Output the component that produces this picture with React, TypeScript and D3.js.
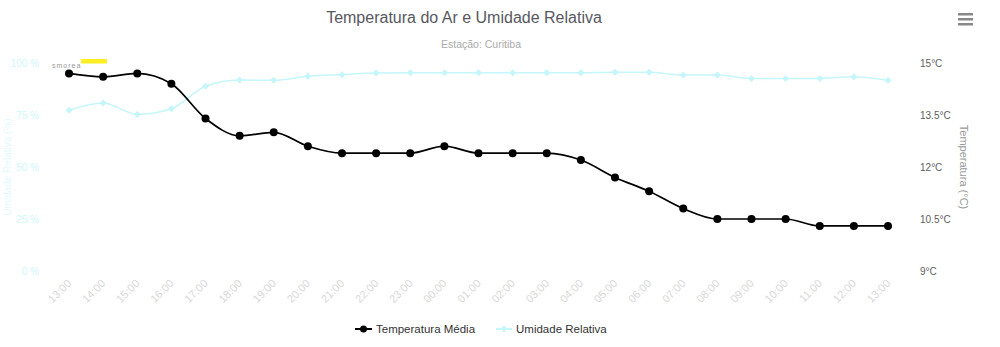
import React from "react";
import * as d3 from "d3";

const hours = ["13:00","14:00","15:00","16:00","17:00","18:00","19:00","20:00","21:00","22:00","23:00","00:00","01:00","02:00","03:00","04:00","05:00","06:00","07:00","08:00","09:00","10:00","11:00","12:00","13:00"];
const temperature = [14.7,14.6,14.7,14.4,13.4,12.9,13.0,12.6,12.4,12.4,12.4,12.6,12.4,12.4,12.4,12.2,11.7,11.3,10.8,10.5,10.5,10.5,10.3,10.3,10.3];
const humidity = [77.3,80.8,75.3,78.0,88.8,91.8,91.7,93.6,94.4,95.2,95.3,95.3,95.3,95.3,95.3,95.3,95.5,95.5,94.2,94.2,92.6,92.6,92.6,93.4,91.7];
const tempTicks = [9,10.5,12,13.5,15];
const humTicks = [0,25,50,75,100];

const FONT = "'Liberation Sans', Arial, sans-serif";
const HUM_COLOR = "#c4f6fa";

export default function App() {
  const W = 1000, H = 347;
  const x = d3.scaleLinear().domain([0, hours.length - 1]).range([69, 888]);
  const yT = d3.scaleLinear().domain([9, 15]).range([271, 63]);
  const yH = d3.scaleLinear().domain([0, 100]).range([271, 63]);
  const lineT = d3.line<number>().x((_, i) => x(i)).y(d => yT(d)).curve(d3.curveMonotoneX);
  const lineH = d3.line<number>().x((_, i) => x(i)).y(d => yH(d)).curve(d3.curveMonotoneX);
  const diamond = (cx: number, cy: number, r: number) => `M${cx},${cy - r}L${cx + r},${cy}L${cx},${cy + r}L${cx - r},${cy}Z`;

  return (
    <svg width={W} height={H} style={{ position: "absolute", left: 0, top: 0, background: "#fff" }} fontFamily={FONT}>
      <rect x={0} y={0} width={W} height={H} fill="#fff" />
      {/* title */}
      <text x={464} y={23} textAnchor="middle" fontSize={16} fill="#585860">Temperatura do Ar e Umidade Relativa</text>
      <text x={481} y={48} textAnchor="middle" fontSize={10.5} fill="#aaa">Estação: Curitiba</text>
      {/* menu icon */}
      {[14, 19, 24].map(yy => (
        <rect key={yy} x={958} y={yy - 1} width={15} height={2.5} fill="#888" />
      ))}
      {/* left axis */}
      {humTicks.map(t => (
        <text key={"h" + t} x={39} y={yH(t) + 4} textAnchor="end" fontSize={10} fill="#d0f7fa">{t} %</text>
      ))}
      <text transform={`translate(11,167) rotate(-90)`} textAnchor="middle" fontSize={10} fill="#e4fafc">Umidade Relativa (%)</text>
      {/* right axis */}
      {tempTicks.map(t => (
        <text key={"t" + t} x={920} y={yT(t) + 4} textAnchor="start" fontSize={10} fill="#606060">{t}°C</text>
      ))}
      <text transform={`translate(960,167) rotate(90)`} textAnchor="middle" fontSize={11} fill="#999">Temperatura (°C)</text>
      {/* x axis labels */}
      {hours.map((h, i) => (
        <text key={"x" + i} transform={`translate(${x(i) + 3},${284}) rotate(-45)`} textAnchor="end" fontSize={11} fill="#d8d8d8">{h}</text>
      ))}
      {/* artifact label */}
      <rect x={81} y={59} width={26} height={4.5} fill="#ffee22" />
      <text x={52} y={68} fontSize={7} fill="#999" letterSpacing={1}>smorea</text>
      {/* humidity series */}
      <path d={lineH(humidity) || ""} fill="none" stroke={HUM_COLOR} strokeWidth={1.5} />
      {humidity.map((v, i) => (
        <path key={"hd" + i} d={diamond(x(i), yH(v), 3.5)} fill={HUM_COLOR} />
      ))}
      {/* temperature series */}
      <path d={lineT(temperature) || ""} fill="none" stroke="#000" strokeWidth={1.7} />
      {temperature.map((v, i) => (
        <circle key={"tc" + i} cx={x(i)} cy={yT(v)} r={4} fill="#000" />
      ))}
      {/* legend */}
      <line x1={355} x2={372} y1={329} y2={329} stroke="#000" strokeWidth={2} />
      <circle cx={363.5} cy={329} r={3.5} fill="#000" />
      <text x={376} y={333} fontSize={11.5} fill="#333">Temperatura Média</text>
      <line x1={496} x2={512} y1={329} y2={329} stroke={HUM_COLOR} strokeWidth={2} />
      <path d={diamond(504, 329, 3.5)} fill={HUM_COLOR} />
      <text x={516} y={333} fontSize={11.5} fill="#333">Umidade Relativa</text>
    </svg>
  );
}
